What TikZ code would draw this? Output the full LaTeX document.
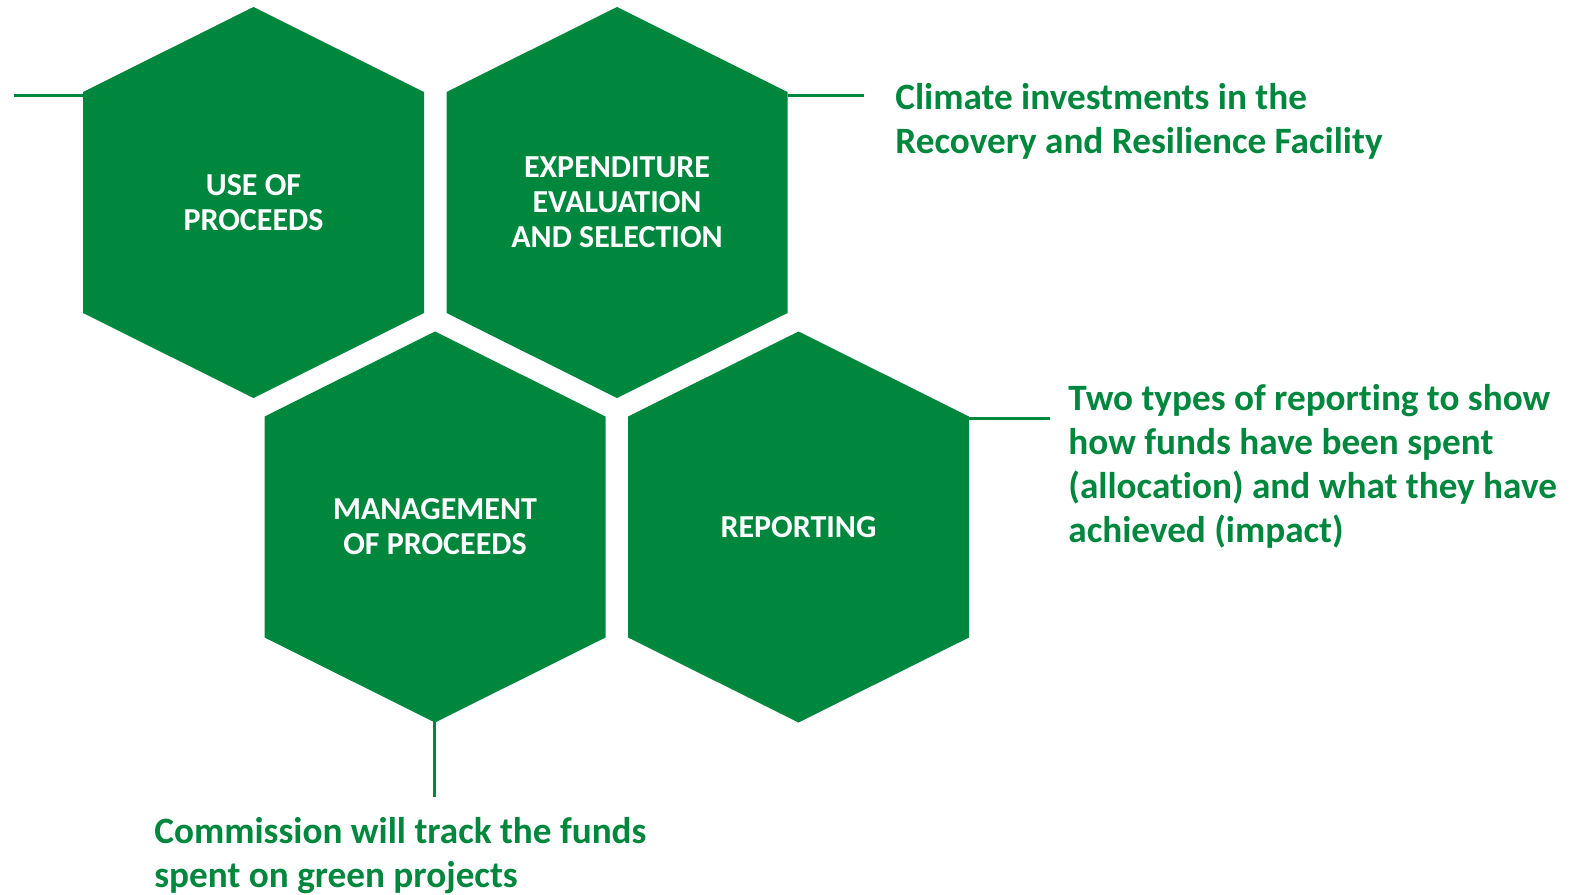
\documentclass[tikz,border=0pt]{standalone}
\usepackage{fontspec}
\setmainfont{Carlito}[RawFeature={-liga;-clig;-calt;-dlig}]
\definecolor{hexgreen}{RGB}{0,135,62}
\tikzset{
  hexa/.pic={\fill[hexgreen] (0,-195.5) -- (170.5,-110.5) -- (170.5,110.5) -- (0,195.5) -- (-170.5,110.5) -- (-170.5,-110.5) -- cycle;},
  hextext/.style={text=white,font=\bfseries\fontsize{16}{17.5}\selectfont,align=center,inner sep=0pt},
  conn/.style={draw=hexgreen,line width=1.5pt},
  note/.style={text=hexgreen,font=\bfseries\fontsize{18.6}{22}\selectfont,align=left,anchor=base west,inner sep=0pt}
}
\begin{document}
\begin{tikzpicture}[x=0.5pt,y=-0.5pt]
\useasboundingbox (0,0) rectangle (1584,894);
% hexagons
\pic at (253.5,202.5) {hexa};
\pic at (617,202.5) {hexa};
\pic at (435,527) {hexa};
\pic at (798.5,527) {hexa};
\node[hextext] (h1) at (253.5,202.5) {USE OF\\PROCEEDS};
\node[hextext] (h2) at (617,202.5) {EXPENDITURE\\EVALUATION\\AND SELECTION};
\node[hextext] (h3) at (435,527) {MANAGEMENT\\OF PROCEEDS};
\node[hextext] (h4) at (798.5,527) {REPORTING};
% connector end points
\coordinate (h1l) at (83,95);
\coordinate (e1) at (14,95);
\coordinate (h2r) at (787.5,95);
\coordinate (e2) at (864,95);
\coordinate (h4r) at (969,418);
\coordinate (e4) at (1050,418);
\coordinate (h3b) at (434,721);
\coordinate (e3) at (434,797);
\draw[conn] (h1l) -- (e1);
\draw[conn] (h2r) -- (e2);
\draw[conn] (h4r) -- (e4);
\draw[conn] (h3b) -- (e3);
% notes (anchored at the baseline of the last line)
\node[note] (n2) at (895,153) {Climate investments in the\\Recovery and Resilience Facility};
\node[note] (n4) at (1068,542) {Two types of reporting to show\\how funds have been spent\\(allocation) and what they have\\achieved (impact)};
\node[note] (n3) at (154,887) {Commission will track the funds\\spent on green projects};
\end{tikzpicture}
\end{document}
